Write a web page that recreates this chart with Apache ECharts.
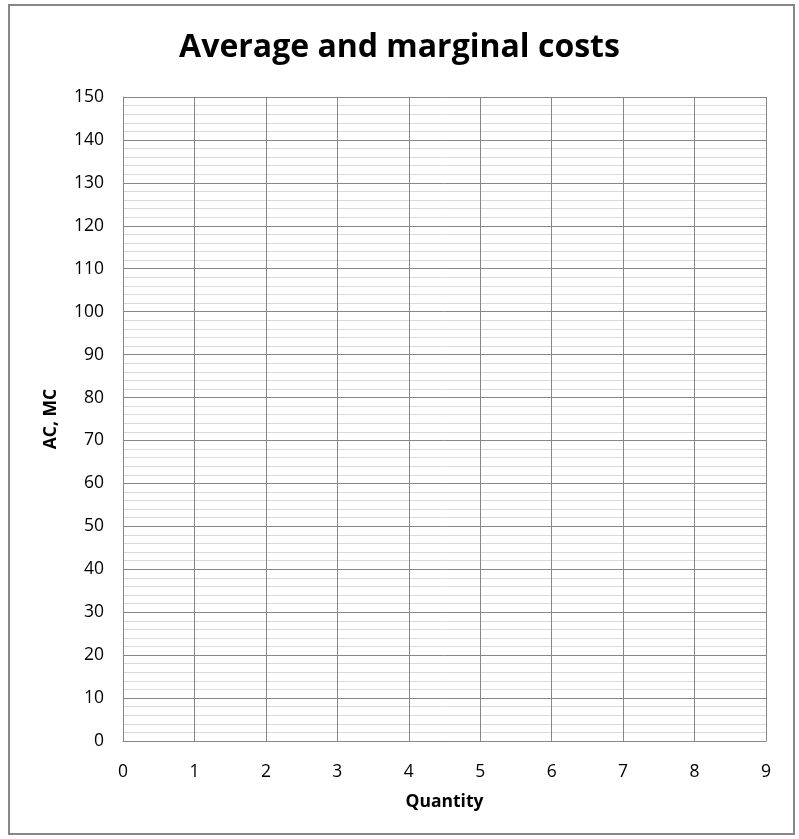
<!DOCTYPE html>
<html>
<head>
<meta charset="utf-8">
<script src="https://cdn.jsdelivr.net/npm/echarts@6/dist/echarts.min.js"></script>
<style>
  html, body { margin: 0; padding: 0; background: #fff; }
  #frame { position: absolute; left: 8px; top: 4px; width: 787px; height: 831px; border: 2px solid #878787; box-sizing: border-box; }
  #chart { position: absolute; left: 0; top: 0; width: 799px; height: 839px; }
</style>
</head>
<body>
<div id="frame"></div>
<div id="chart"></div>
<script>
// Worksheet for plotting average and marginal cost curves (no points yet)
const chartTitle = 'Average and marginal costs';
const xAxisName = 'Quantity';
const yAxisName = 'AC, MC';
const quantityTicks = [0, 1, 2, 3, 4, 5, 6, 7, 8, 9];
const costTicks = [0, 10, 20, 30, 40, 50, 60, 70, 80, 90, 100, 110, 120, 130, 140, 150];
const acValues = [];
const mcValues = [];

const font = '"Open Sans", "Noto Sans", sans-serif';
const chart = echarts.init(document.getElementById('chart'), null, { renderer: 'canvas' });

chart.setOption({
  animation: false,
  title: {
    text: chartTitle,
    left: 'center',
    top: 27,
    textStyle: { fontFamily: font, fontWeight: 'bold', fontSize: 32, color: '#000' }
  },
  grid: { left: 123, right: 33, top: 97, bottom: 98, containLabel: false },
  xAxis: {
    type: 'value',
    min: quantityTicks[0],
    max: quantityTicks[quantityTicks.length - 1],
    interval: 1,
    name: xAxisName,
    nameLocation: 'middle',
    nameGap: 52,
    nameTextStyle: { fontFamily: font, fontWeight: 'bold', fontSize: 17.5, color: '#000' },
    axisLine: { show: true, lineStyle: { color: '#878787', width: 1 } },
    axisTick: { show: false },
    axisLabel: { fontFamily: font, fontSize: 17.5, color: '#000', margin: 22 },
    splitLine: { show: true, lineStyle: { color: '#878787', width: 1 } }
  },
  yAxis: {
    type: 'value',
    min: costTicks[0],
    max: costTicks[costTicks.length - 1],
    interval: 10,
    name: yAxisName,
    nameLocation: 'middle',
    nameGap: 63,
    nameTextStyle: { fontFamily: font, fontWeight: 'bold', fontSize: 17.5, color: '#000' },
    axisLine: { show: true, lineStyle: { color: '#878787', width: 1 } },
    axisTick: { show: false },
    axisLabel: { fontFamily: font, fontSize: 17.5, color: '#000', margin: 19 },
    splitLine: { show: true, lineStyle: { color: '#878787', width: 1 } },
    minorTick: { show: false, splitNumber: 5 },
    minorSplitLine: { show: true, lineStyle: { color: '#d9d9d9', width: 1 } }
  },
  series: [
    { name: 'AC', type: 'line', data: acValues, symbol: 'none' },
    { name: 'MC', type: 'line', data: mcValues, symbol: 'none' }
  ]
});
</script>
</body>
</html>
